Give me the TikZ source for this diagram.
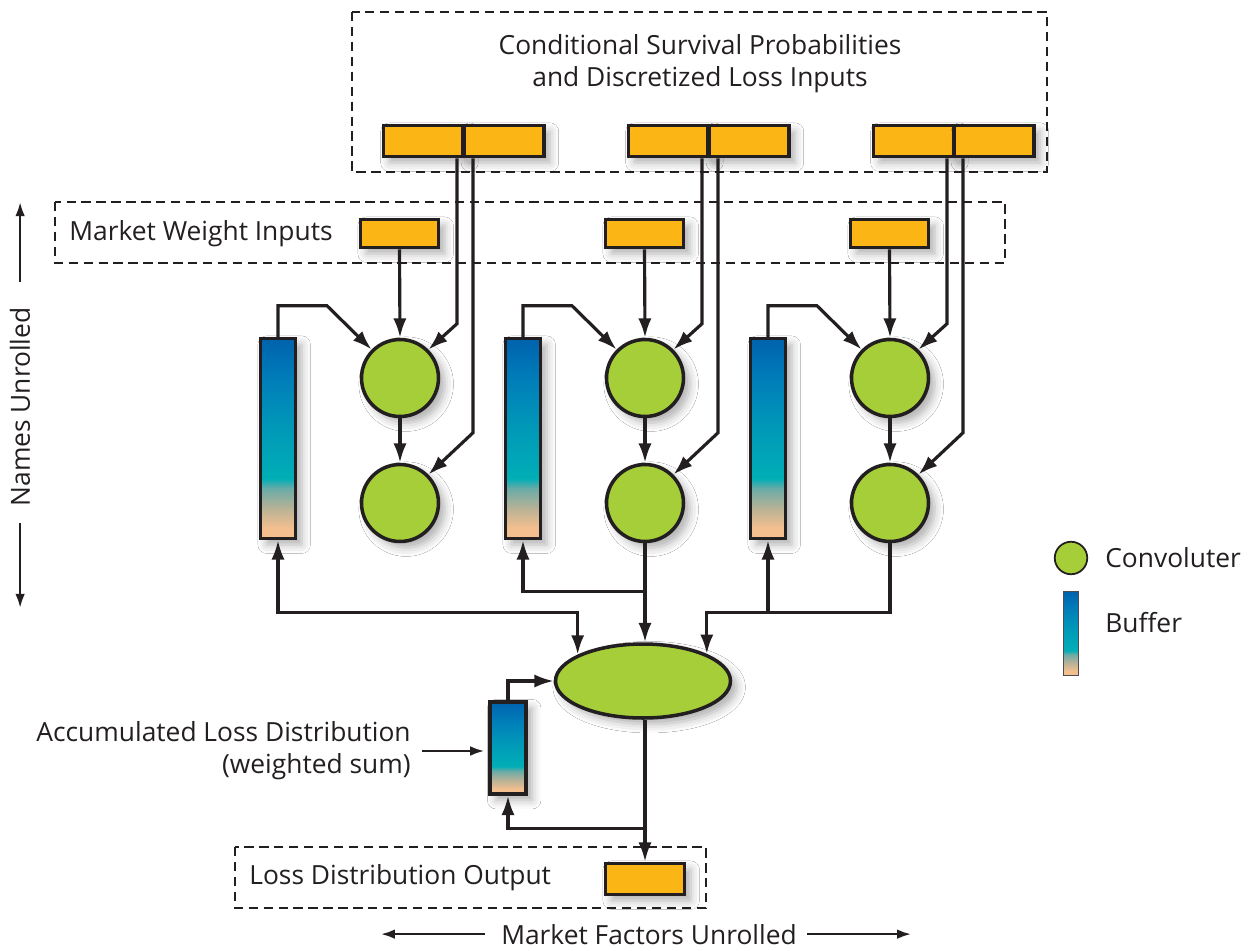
\documentclass[tikz,border=0pt]{standalone}
\usepackage{fontspec}
\setmainfont{Open Sans}
\usetikzlibrary{arrows.meta,calc,shadows.blur,shapes.geometric}

\definecolor{ink}{HTML}{231F20}
\definecolor{amber}{HTML}{FBB515}
\definecolor{leaf}{HTML}{A6CE39}
\definecolor{sand}{HTML}{F4BF8E}
\definecolor{dune}{HTML}{B9B296}
\definecolor{mist}{HTML}{6AABA7}
\definecolor{lagoon}{HTML}{00AEB6}
\definecolor{sea}{HTML}{0099B8}
\definecolor{ocean}{HTML}{007DB9}
\definecolor{deep}{HTML}{0062AD}

% buffer colour ramp: peach at the bottom, teal in the middle, deep blue on top
\pgfdeclareverticalshading{bufshade}{100bp}{%
  color(0bp)=(sand); color(25bp)=(sand); color(27.5bp)=(sand);
  color(32.5bp)=(dune); color(37.5bp)=(mist); color(40bp)=(lagoon);
  color(52.5bp)=(sea); color(65bp)=(ocean); color(75bp)=(deep); color(100bp)=(deep)}

\newcommand\lblfont{\fontsize{15pt}{18.2pt}\selectfont}

\tikzset{
  x=0.02cm, y=-0.02cm,
  every node/.style={text=ink, font=\lblfont},
  txt/.style={inner sep=0pt},
  dropshadow/.style={blur shadow={shadow xshift=3.5pt, shadow yshift=-3.5pt,
      shadow blur radius=5pt, shadow opacity=32}},
  wire/.style={draw=ink, line width=1.8pt},
  arr/.style={wire, -{Latex[length=11pt,width=7.5pt]}},
  twoway/.style={wire, {Latex[length=11pt,width=7.5pt]}-{Latex[length=11pt,width=7.5pt]}},
  axis/.style={draw=ink, line width=1.3pt, -{Latex[length=8pt,width=5.5pt]}},
  dashbox/.style={draw=ink, line width=1.1pt, dash pattern=on 5.3pt off 3.2pt},
  inbox/.style={draw=ink, line width=2pt, fill=amber, inner sep=0,
      minimum width=1.6cm, minimum height=0.62cm, dropshadow},
  wtbox/.style={inbox, minimum width=1.56cm, minimum height=0.56cm},
  conv/.style={circle, draw=ink, line width=2pt, fill=leaf, inner sep=0,
      minimum size=1.54cm, dropshadow},
  buffer/.style={draw=ink, line width=2pt, shading=bufshade, inner sep=0,
      minimum width=0.7cm, minimum height=4.0cm, dropshadow},
}

\begin{document}
\begin{tikzpicture}
\useasboundingbox (0,0) rectangle (1253,950);
\fill[white] (0,0) rectangle (1253,950);

% grouping frames
\draw[dashbox] (352,12) rectangle (1047,172);
\draw[dashbox] (55,202) rectangle (1005,263);
\draw[dashbox] (235,847) rectangle (706,908);

\node[txt, align=center] (title) at (700,64)
  {Conditional Survival Probabilities\\and Discretized Loss Inputs};
\node[txt, anchor=base west] (mwi) at (69,240) {Market Weight Inputs};
\node[txt, anchor=base west] (ldo) at (249,884) {Loss Distribution Output};

% three market-factor columns
\foreach \g in {0,1,2} {
  \pgfmathsetmacro{\dx}{245*\g}
  \node[inbox] (inL\g) at (423.25+\dx,141) {};
  \node[inbox] (inR\g) at (503.75+\dx,141) {};
  \node[wtbox] (wt\g) at (399.5+\dx,233.5) {};
  \node[conv] (ct\g) at (400+\dx,378) {};
  \node[conv] (cb\g) at (400+\dx,503) {};
  \node[buffer] (b\g) at (278+\dx,438.5) {};

  \draw[arr] (wt\g.south) -- (ct\g.north);
  \draw[arr] (ct\g.south) -- (cb\g.north);
  \draw[arr] ([xshift=0.675cm]inL\g.south) -- ++(0,165.5) -- (ct\g.45);
  \draw[arr] ([xshift=-0.615cm]inR\g.south) -- ++(0,274.5) -- (cb\g.45);
  \draw[arr] (b\g.north) -- ++(0,-31) -- ++(49,0) -- (ct\g.135);
}

% accumulation stage
\node[ellipse, draw=ink, line width=2pt, fill=leaf, inner sep=0,
      minimum width=3.5cm, minimum height=1.48cm, dropshadow] (E) at (643,681) {};
\node[buffer, minimum width=0.72cm, minimum height=1.84cm] (acc) at (508,748) {};
\node[inbox, minimum width=1.58cm] (out) at (645,879) {};

\draw[twoway] (b0.south) -- ++(0,72) -| (E.158.5);
\draw[arr] (cb1.south) -- (cb1.south |- E.north);
\coordinate (j1) at ($(cb1.south)+(0,48)$);
\draw[arr] (j1) -| (b1.south);
\draw[arr] (cb2.south) -- ++(0,69) -| (E.23);
\coordinate (j2) at ($(cb2.south)+(0,69)$);
\draw[arr] (j2 -| b2.south) -- (b2.south);

\draw[arr] (acc.north) |- (E.west);
\coordinate (eo) at (E.south -| out.north);
\draw[arr] (eo) -- (out.north);
\coordinate (j3) at ($(eo)+(0,109)$);
\draw[arr] (j3) -| (acc.south);

\node[txt, anchor=east, align=right] (acct) at (411,751)
  {Accumulated Loss Distribution\\(weighted sum)};
\draw[axis] ([xshift=0.22cm]acct.east) -- ([xshift=-0.08cm]acct.east -| acc.west);

% legend
\node[circle, draw=ink, line width=1pt, fill=leaf, inner sep=0,
      minimum size=0.65cm] (legc) at (1071,558) {};
\node[txt, anchor=base west] (legct) at (1105,567) {Convoluter};
\node[draw=ink!80, line width=1pt, shading=bufshade, inner sep=0,
      minimum width=0.3cm, minimum height=1.68cm] (legb) at (1071,633.5) {};
\node[txt, anchor=base west] (legbt) at (1105,632) {Buffer};

% unrolling directions
\node[txt, rotate=90, anchor=base] (nu) at (30,407) {Names Unrolled};
\draw[axis] ($(nu.east)+(0,-25)$) -- ++(0,-80);
\draw[axis] ($(nu.west)+(0,16)$) -- ++(0,85);
\node[txt, anchor=base] (mf) at (649,944) {Market Factors Unrolled};
\draw[axis] ($(mf.west)+(-16,0)$) -- ++(-104,0);
\draw[axis] ($(mf.east)+(10,0)$) -- ++(104,0);
\end{tikzpicture}
\end{document}
